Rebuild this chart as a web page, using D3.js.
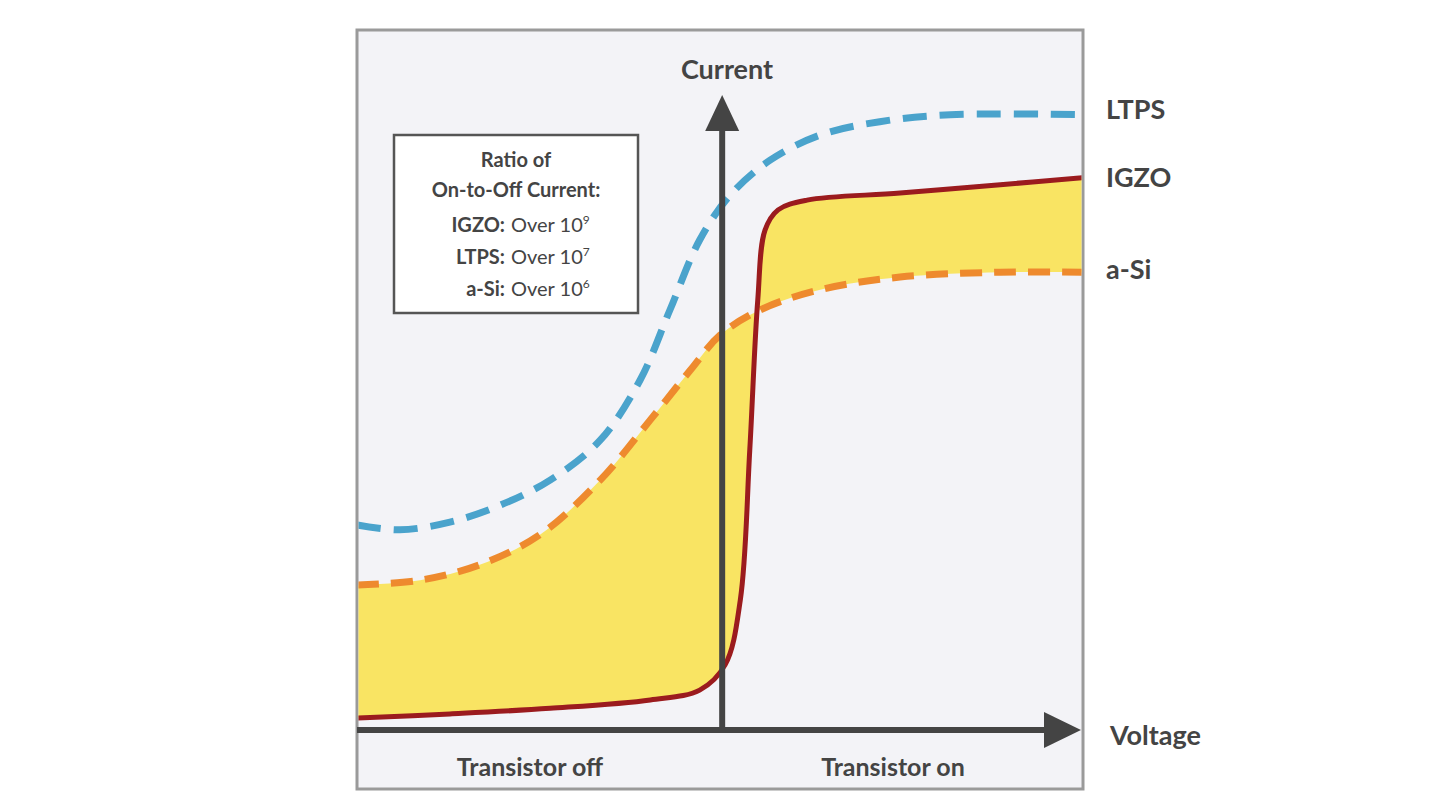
<!DOCTYPE html>
<html><head><meta charset="utf-8">
<script src="https://cdn.jsdelivr.net/npm/d3@7"></script>
<style>body{margin:0;background:#fff}svg{display:block}text{font-family:Lato,"Open Sans",sans-serif;fill:#444}</style>
</head><body><svg id="c" width="1440" height="809"></svg>
<script>
// Voltage (0-10) vs relative Current (0-100)
const ltpsV = [0,0.59,1.28,1.97,2.66,3.35,3.9,4.31,4.72,5.14,5.69,6.38,7.2,8.17,10];
const ltpsC = [29.3,28.6,29.7,32.1,35.7,41.4,50,60,70,76.4,81.4,85,86.9,87.9,87.9];
const asiV = [0,0.87,1.69,2.52,3.35,4.04,4.59,5.0,5.55,6.38,7.48,8.86,10];
const asiC = [20.7,21.4,23.6,27.9,35.7,44.3,51.4,56.4,60,62.9,64.7,65.4,65.4];
const igzoV = [0,1.28,2.66,4.04,4.72,5.07,5.28,5.41,5.52,5.62,5.8,6.2,7.48,8.86,10];
const igzoC = [1.7,2.3,3.1,4.3,5.7,9.3,18.6,40,61.4,71.4,74.3,75.7,76.7,77.9,78.9];
const seriesLabels = ["LTPS","IGZO","a-Si"];
const ratios = [["IGZO:","9"],["LTPS:","7"],["a-Si:","6"]];
const axisV = 5.03;

const svg = d3.select("#c");
const x = d3.scaleLinear().domain([0,10]).range([357,1083]);
const y = d3.scaleLinear().domain([0,100]).range([730,30]);
const pts = (V,C)=>V.map((v,i)=>[v,C[i]]);
const line = d3.line().x(d=>x(d[0])).y(d=>y(d[1])).curve(d3.curveCatmullRom.alpha(0.5));

svg.append("rect").attr("x",357).attr("y",30).attr("width",726).attr("height",759)
  .attr("fill","#f3f3f7").attr("stroke","#9a9a9a").attr("stroke-width",3);

const clip = svg.append("clipPath").attr("id","cl");
clip.append("rect").attr("x",358.5).attr("y",31.5).attr("width",723).attr("height",756);
const g = svg.append("g").attr("clip-path","url(#cl)");

const a = line(pts(asiV,asiC));
const b = line(pts(igzoV,igzoC).reverse());
g.append("path").attr("d", a + "L" + b.slice(1) + "Z").attr("fill","#f9e463").attr("fill-rule","nonzero");

const ax = "#444", X0 = x(axisV);
svg.append("line").attr("x1",X0).attr("x2",X0).attr("y1",y(0)+2).attr("y2",128).attr("stroke",ax).attr("stroke-width",6);
svg.append("path").attr("d",`M${X0-17},131L${X0},95L${X0+17},131Z`).attr("fill",ax);
svg.append("line").attr("x1",357).attr("x2",1048).attr("y1",y(0)).attr("y2",y(0)).attr("stroke",ax).attr("stroke-width",6);
svg.append("path").attr("d",`M1044,${y(0)-18}L1081,${y(0)}L1044,${y(0)+18}Z`).attr("fill",ax);

g.append("path").attr("d",line(pts(ltpsV,ltpsC))).attr("fill","none").attr("stroke","#4aa3cc").attr("stroke-width",7).attr("stroke-dasharray","24 13");
g.append("path").attr("d",line(pts(asiV,asiC))).attr("fill","none").attr("stroke","#ee8a2e").attr("stroke-width",7).attr("stroke-dasharray","22 12");
g.append("path").attr("d",line(pts(igzoV,igzoC))).attr("fill","none").attr("stroke","#9b1b1e").attr("stroke-width",5);

const lab = (t,xx,yy,anchor,size)=>svg.append("text").attr("x",xx).attr("y",yy).attr("text-anchor",anchor||"start")
  .attr("font-size",size||27).attr("font-weight",700).text(t);
lab(seriesLabels[0],1106,119);
lab(seriesLabels[1],1106,187);
lab(seriesLabels[2],1106,279);
lab("Voltage",1110,745);
lab("Current",727,79,"middle");
lab("Transistor off",530,776,"middle",25);
lab("Transistor on",893,776,"middle",25);

svg.append("rect").attr("x",394).attr("y",135).attr("width",244).attr("height",178).attr("fill","#fff").attr("stroke","#555").attr("stroke-width",2.5);
lab("Ratio of",516,167,"middle",20);
lab("On-to-Off Current:",516,197,"middle",20);
ratios.forEach((r,i)=>{
  const yy = 232 + i*32;
  lab(r[0],505,yy,"end",20);
  const t = svg.append("text").attr("x",511).attr("y",yy).attr("font-size",20).attr("font-weight",400);
  t.append("tspan").text("Over 10");
  t.append("tspan").attr("dy",-8).attr("font-size",12).text(r[1]);
});
</script></body></html>
